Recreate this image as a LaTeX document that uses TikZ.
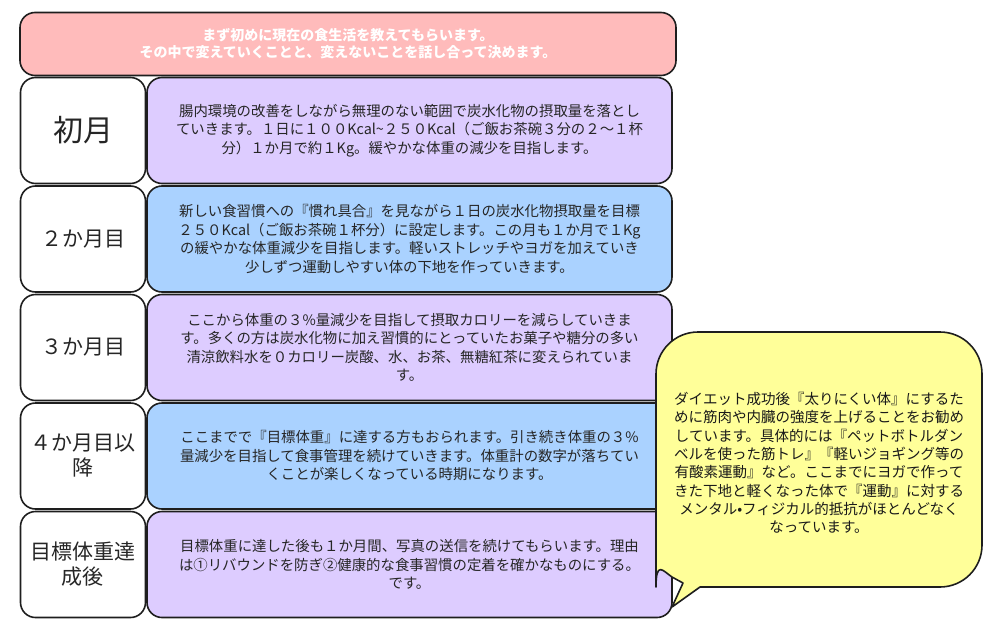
\documentclass[tikz,border=0pt]{standalone}
\usepackage{fontspec}
\setmainfont{Noto Sans CJK JP}
\usepackage{tikz}
\definecolor{pinkhead}{HTML}{FFBBBB}
\definecolor{lilac}{HTML}{DDCCFF}
\definecolor{skyblue}{HTML}{AAD2FF}
\definecolor{lemon}{HTML}{FFFF99}
\definecolor{edgegray}{HTML}{1E1E1E}
\tikzset{
	box/.style={draw=edgegray, line width=1.6pt, rounded corners=15pt, align=center, inner sep=0pt, text=black!85},
	month/.style={box, fill=white, minimum width=125pt, minimum height=106pt, font=\fontsize{21}{25}\selectfont},
	plan/.style={box, minimum width=525pt, minimum height=106pt, font=\fontsize{14.4}{18.5}\selectfont},
	bubble/.style={draw=edgegray, line width=1.6pt, fill=lemon, line join=round}
}
\begin{document}
\begin{tikzpicture}[x=1pt,y=-1pt]
					\useasboundingbox (0,0) rectangle (1000,629);
					%\draw [help lines] (0,0) grid[step=50] (1000,629);
					\node [box, fill=pinkhead, minimum width=656pt, minimum height=63pt, text=white, font=\bfseries\fontsize{14}{17}\selectfont] (head) at (348,44) {まず初めに現在の食生活を教えてもらいます。\\その中で変えていくことと、変えないことを話し合って決めます。};
					%Mesi
					\node [month, font=\fontsize{30}{34}\selectfont] (m1) at (83,130.5) {初月};
					\node [month] (m2) at (83,239) {２か月目};
					\node [month] (m3) at (83,347.5) {３か月目};
					\node [month] (m4) at (83,456) {４か月目以\\降};
					\node [month] (m5) at (83,564.5) {目標体重達\\成後};
					%Piano
					\node [plan, fill=lilac] (p1) at (409.5,130.5) {腸内環境の改善をしながら無理のない範囲で炭水化物の摂取量を落とし\\ていきます。１日に１００Kcal\textasciitilde ２５０Kcal（ご飯お茶碗３分の２〜１杯\\分）１か月で約１Kg。緩やかな体重の減少を目指します。};
					\node [plan, fill=skyblue] (p2) at (409.5,239) {新しい食習慣への『慣れ具合』を見ながら１日の炭水化物摂取量を目標\\２５０Kcal（ご飯お茶碗１杯分）に設定します。この月も１か月で１Kg\\の緩やかな体重減少を目指します。軽いストレッチやヨガを加えていき\\少しずつ運動しやすい体の下地を作っていきます。};
					\node [plan, fill=lilac] (p3) at (409.5,347.5) {ここから体重の３\%量減少を目指して摂取カロリーを減らしていきま\\す。多くの方は炭水化物に加え習慣的にとっていたお菓子や糖分の多い\\清涼飲料水を０カロリー炭酸、水、お茶、無糖紅茶に変えられていま\\す。};
					\node [plan, fill=skyblue] (p4) at (409.5,456) {ここまでで『目標体重』に達する方もおられます。引き続き体重の３\%\\量減少を目指して食事管理を続けていきます。体重計の数字が落ちてい\\くことが楽しくなっている時期になります。};
					\node [plan, fill=lilac] (p5) at (409.5,564.5) {目標体重に達した後も１か月間、写真の送信を続けてもらいます。理由\\は①リバウンドを防ぎ②健康的な食事習慣の定着を確かなものにする。\\です。};
					%Fumetto
					\draw [bubble] (700,587) [rounded corners=42pt] -- (982,587) -- (982,332) -- (656,332) -- (656,545) [sharp corners] .. controls (656,560) and (663,571) .. (672,577) -- (683,583) -- (672,607) -- cycle;
					\node [align=center, inner sep=0pt, text=black!90, font=\fontsize{14.5}{18.3}\selectfont] (note) at (819,463) {ダイエット成功後『太りにくい体』にするた\\めに筋肉や内臓の強度を上げることをお勧め\\しています。具体的には『ペットボトルダン\\ベルを使った筋トレ』『軽いジョギング等の\\有酸素運動』など。ここまでにヨガで作って\\きた下地と軽くなった体で『運動』に対する\\メンタル•フィジカル的抵抗がほとんどなく\\なっています。};
		\end{tikzpicture}
\end{document}
